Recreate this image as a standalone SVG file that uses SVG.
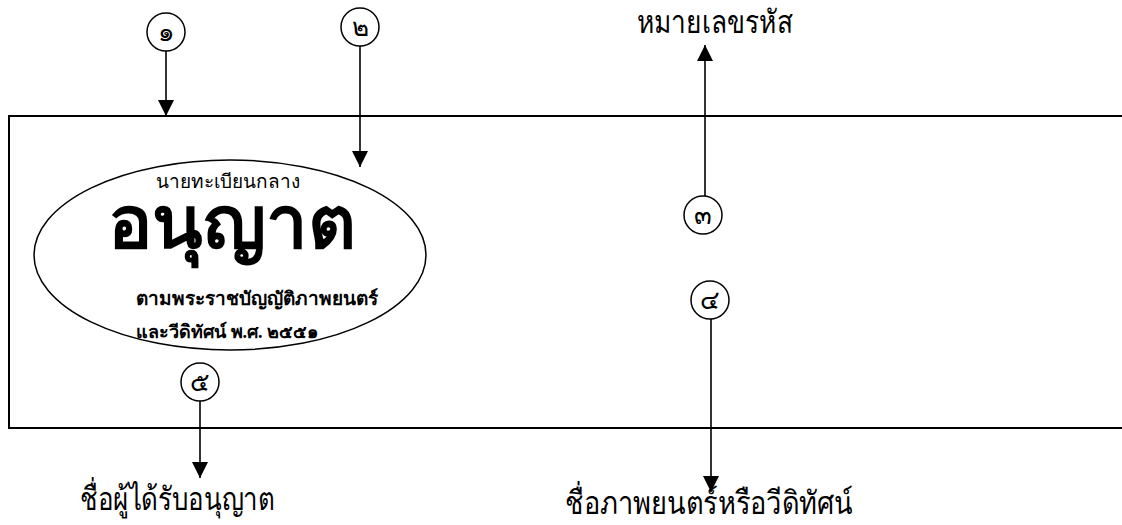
<svg xmlns="http://www.w3.org/2000/svg" width="1122" height="525" viewBox="0 0 1122 525">
<style>
.c{fill:#fff;stroke:#000;stroke-width:1.5}
.n{font-family:"Liberation Serif","Noto Sans",serif;font-size:26px;text-anchor:middle;fill:#000}
.l{stroke:#000;stroke-width:1.6;fill:none}
.lbl{font-family:"Noto Sans","DejaVu Sans",sans-serif;font-size:32px;fill:#000}
.t{font-family:"Liberation Serif","Noto Sans",serif;fill:#000}
</style>
<defs>
<marker id="ah" markerWidth="16" markerHeight="16" viewBox="0 0 16 16" refX="16" refY="8" orient="auto" markerUnits="userSpaceOnUse">
<path d="M0,0 L16,8 L0,16 Z" fill="#000"/>
</marker>
</defs>
<rect x="9" y="116" width="1130" height="312" fill="#fff" stroke="#000" stroke-width="2"/>
<g id="license">
<ellipse cx="230" cy="255" rx="196" ry="95" fill="#fff" stroke="#000" stroke-width="1.5"/>
<text class="t" x="228" y="188" font-size="19" text-anchor="middle">นายทะเบียนกลาง</text>
<text class="t" x="232" y="248" font-size="74" font-weight="bold" text-anchor="middle">อนุญาต</text>
<text class="t" x="136" y="305" font-size="19" font-weight="bold">ตามพระราชบัญญัติภาพยนตร์</text>
<text class="t" x="136" y="338" font-size="18" font-weight="bold" textLength="182" lengthAdjust="spacingAndGlyphs">และวีดิทัศน์ พ.ศ. ๒๕๕๑</text>
</g>
<g id="connectors">
<line class="l" x1="166" y1="50" x2="166" y2="116" marker-end="url(#ah)"/>
<line class="l" x1="360" y1="46" x2="360" y2="167" marker-end="url(#ah)"/>
<line class="l" x1="705" y1="196" x2="705" y2="45" marker-end="url(#ah)"/>
<line class="l" x1="711" y1="319" x2="711" y2="492" marker-end="url(#ah)"/>
<line class="l" x1="200" y1="401" x2="200" y2="478" marker-end="url(#ah)"/>
</g>
<g id="n1"><circle class="c" cx="166" cy="32" r="19"/><text class="n" x="166" y="41">๑</text></g>
<g id="n2"><circle class="c" cx="360" cy="27" r="19"/><text class="n" x="360" y="36">๒</text></g>
<g id="n3"><circle class="c" cx="703" cy="215" r="19"/><text class="n" x="703" y="224">๓</text></g>
<g id="n4"><circle class="c" cx="710" cy="300" r="19"/><text class="n" x="710" y="309">๔</text></g>
<g id="n5"><circle class="c" cx="200" cy="382" r="19"/><text class="n" x="200" y="391">๕</text></g>
<g id="lbl3"><text class="lbl" x="637" y="33" textLength="156" lengthAdjust="spacingAndGlyphs">หมายเลขรหัส</text></g>
<g id="lbl5"><text class="lbl" x="80" y="510" textLength="195" lengthAdjust="spacingAndGlyphs">ชื่อผู้ได้รับอนุญาต</text></g>
<g id="lbl4"><text class="lbl" x="565" y="514" textLength="288" lengthAdjust="spacingAndGlyphs">ชื่อภาพยนตร์หรือวีดิทัศน์</text></g>
</svg>
